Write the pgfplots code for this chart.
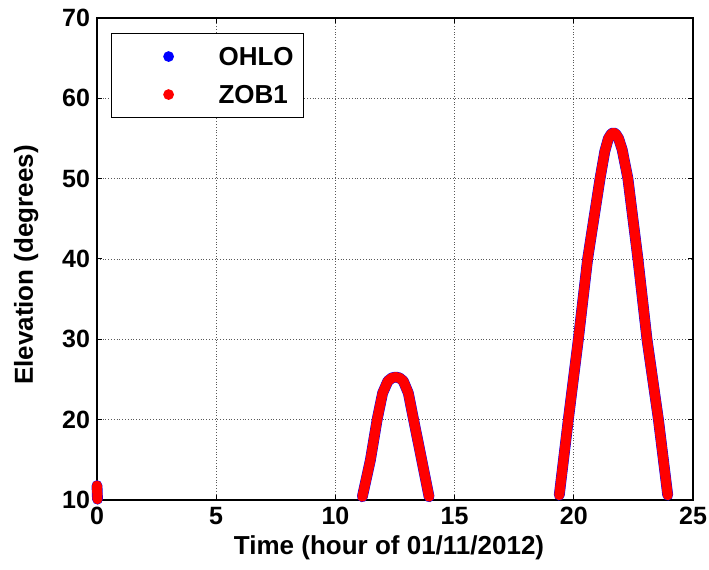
\documentclass[border=0pt]{standalone}
\usepackage{fontspec}
\setmainfont{Liberation Sans}
\usepackage{pgfplots}
\pgfplotsset{compat=1.18}

% elevation tracks, hour vs degrees
\begin{document}
\begin{tikzpicture}
\begin{axis}[
  scale only axis,
  width=298pt, height=241pt,
  xmin=0, xmax=25, ymin=10, ymax=70,
  xtick={0,5,...,25}, ytick={10,20,...,70},
  /pgf/number format/assume math mode=true,
  ticklabel style={font=\bfseries\fontsize{12.5}{14}\selectfont},
  label style={font=\bfseries\fontsize{13}{15}\selectfont},
  xlabel={Time (hour of 01/11/2012)},
  ylabel={Elevation (degrees)},
  xlabel style={at={(axis description cs:0.49,-0.1141)},anchor=base},
  ylabel style={at={(axis description cs:-0.1074,0.4876)},anchor=base},
  axis line style={black,line width=0.6pt},
  tick align=inside, major tick length=2.5pt,
  tick style={black,line width=0.5pt},
  grid=major,
  grid style={densely dotted,black!65,line width=0.4pt},
  clip=false,
  legend style={at={(0.0235,0.969)},anchor=north west,
    draw=black,line width=0.6pt,fill=white,
    inner xsep=4.9pt,inner ysep=2pt,row sep=0pt,column sep=0pt,
    font=\bfseries\fontsize{13}{15}\selectfont,
    nodes={inner sep=0pt,text depth=0pt},
    cells={anchor=west}},
  legend image code/.code={
    \path[draw=none,fill=none] (0pt,-9.5pt) rectangle (48.6pt,9.5pt);
    \fill[#1,draw=none] (23.6pt,0pt) circle (2.7pt);},
]
\coordinate (sw) at (rel axis cs:0,0);
\coordinate (ne) at (rel axis cs:1,1);

% OHLO (mostly hidden under ZOB1)
\addplot[blue,line width=5.4pt,line cap=round,line join=round]
  coordinates {
    (0,11.8) (0.02,10.1)
  };
\addlegendentry{OHLO}
\addplot[blue,line width=5.4pt,line cap=round,line join=round,forget plot]
  coordinates {
    (11.13,10.4) (11.47,15) (11.75,20) (11.98,23.3) (12.2,24.8)
    (12.37,25.2) (12.53,25.3) (12.69,25.2) (12.85,24.8) (13.06,23.3)
    (13.28,20) (13.62,15) (13.93,10.4)
  };
\addplot[blue,line width=5.4pt,line cap=round,line join=round,forget plot]
  coordinates {
    (19.39,10.6) (19.77,20) (20.19,30) (20.58,40) (21.1,50) (21.3,53.4)
    (21.45,55.0) (21.58,55.6) (21.66,55.7) (21.75,55.6) (21.88,55.0)
    (22.03,53.6) (22.27,50) (22.69,40) (23.07,30) (23.55,20) (23.94,10.6)
  };

% ZOB1
\addplot[red,line width=5pt,line cap=round,line join=round]
  coordinates {
    (0,11.8) (0.02,10.1)
  };
\addlegendentry{ZOB1}
\addplot[red,line width=5pt,line cap=round,line join=round,forget plot]
  coordinates {
    (11.13,10.4) (11.47,15) (11.75,20) (11.98,23.3) (12.2,24.8)
    (12.37,25.2) (12.53,25.3) (12.69,25.2) (12.85,24.8) (13.06,23.3)
    (13.28,20) (13.62,15) (13.93,10.4)
  };
\addplot[red,line width=5pt,line cap=round,line join=round,forget plot]
  coordinates {
    (19.39,10.6) (19.77,20) (20.19,30) (20.58,40) (21.1,50) (21.3,53.4)
    (21.45,55.0) (21.58,55.6) (21.66,55.7) (21.75,55.6) (21.88,55.0)
    (22.03,53.6) (22.27,50) (22.69,40) (23.07,30) (23.55,20) (23.94,10.6)
  };
\end{axis}
\pgfresetboundingbox
\path ([xshift=-48.5pt,yshift=-35pt]sw) rectangle ([xshift=8pt,yshift=9pt]ne);
\end{tikzpicture}
\end{document}
